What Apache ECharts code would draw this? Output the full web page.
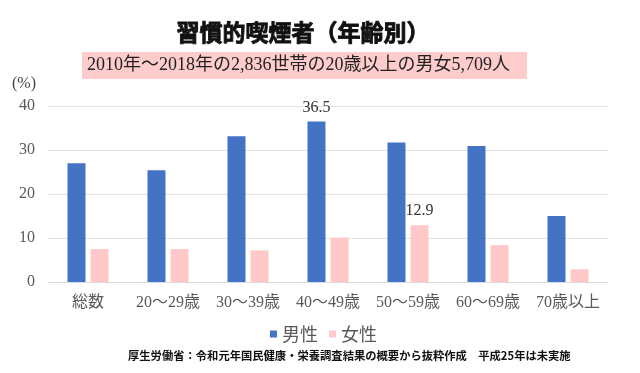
<!DOCTYPE html>
<html><head><meta charset="utf-8">
<script src="https://cdn.jsdelivr.net/npm/echarts@6/dist/echarts.min.js"></script>
<style>html,body{margin:0;padding:0;background:#fff}#c{width:640px;height:373px}</style>
</head><body><div id="c"></div>
<script>
const categories = ['総数','20～29歳','30～39歳','40～49歳','50～59歳','60～69歳','70歳以上'];
const male = [27.0, 25.4, 33.1, 36.5, 31.7, 30.9, 15.0];
const female = [7.5, 7.5, 7.2, 10.1, 12.9, 8.4, 2.9];
const maleLabelIdx = [3];
const femaleLabelIdx = [4];
const yTicks = {min: 0, max: 40, interval: 10};

const serif = '"Liberation Serif", "Noto Sans CJK JP", serif';
const sans = '"Noto Sans CJK JP", sans-serif';
const chart = echarts.init(document.getElementById('c'));
function mk(arr, idxs){
  return arr.map((v,i)=> idxs.includes(i) ? {value:v, label:{show:true}} : v);
}
chart.setOption({
  animation:false,
  title:[
    {text:'習慣的喫煙者（年齢別）', left:298, top:16, textAlign:'center',
     textStyle:{fontSize:23, fontWeight:'bold', color:'#111', fontFamily:sans,
       textBorderColor:'#111', textBorderWidth:0.9}},
    {text:'2010年～2018年の2,836世帯の20歳以上の男女5,709人', left:82, top:52,
     backgroundColor:'#FFCCCC', padding:[4,17,5,5],
     textStyle:{fontSize:18, fontWeight:'normal', color:'#222', fontFamily:serif}}
  ],
  graphic:[
    {type:'text', left:12, top:76, style:{text:'(%)', font:'16px '+serif, fill:'#444'}},
    {type:'text', left:128, top:350, style:{text:'厚生労働省：令和元年国民健康・栄養調査結果の概要から抜粋作成　平成25年は未実施', font:'bold 11.3px '+sans, fill:'#111'}}
  ],
  legend:{left:265, top:320, itemWidth:7, itemHeight:7, itemGap:11,
    icon:'rect', textStyle:{fontSize:18, color:'#595959', fontFamily:sans},
    data:['男性','女性']},
  grid:{left:48, right:32, top:106, bottom:91},
  xAxis:{type:'category', data:categories,
    axisLine:{lineStyle:{color:'#D9D9D9'}}, axisTick:{show:false},
    axisLabel:{interval:0, hideOverlap:false, fontSize:16, color:'#595959', margin:13, fontFamily:serif}},
  yAxis:{type:'value', min:yTicks.min, max:yTicks.max, interval:yTicks.interval,
    axisLine:{show:false}, axisTick:{show:false},
    splitLine:{lineStyle:{color:'#E3E3E3'}},
    axisLabel:{fontSize:16, color:'#595959', margin:13, fontFamily:serif}},
  series:[
    {name:'男性', type:'bar', data:mk(male, maleLabelIdx), barWidth:18, barGap:'28%',
     itemStyle:{color:'#4472C4'},
     label:{show:false, position:'top', distance:6, fontSize:16, color:'#333', fontFamily:serif}},
    {name:'女性', type:'bar', data:mk(female, femaleLabelIdx), barWidth:18,
     itemStyle:{color:'#FFC9C9'},
     label:{show:false, position:'top', distance:6, fontSize:16, color:'#333', fontFamily:serif}}
  ]
});
</script></body></html>
